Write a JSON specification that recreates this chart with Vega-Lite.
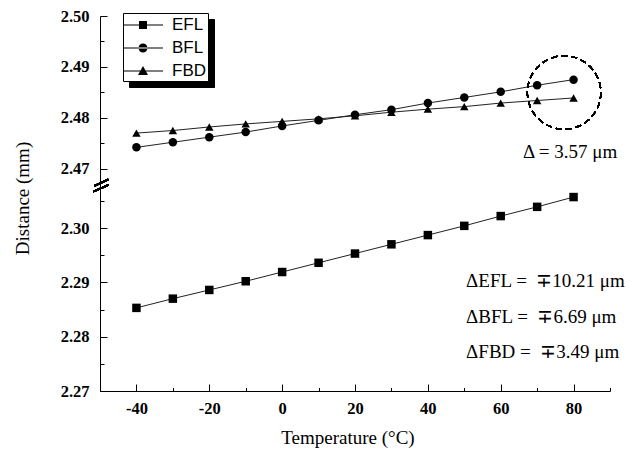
{
  "$schema": "https://vega.github.io/schema/vega-lite/v6.json",
  "width": 510,
  "height": 375,
  "autosize": "none",
  "padding": {"left": 100, "top": 16, "right": 22, "bottom": 62},
  "background": "white",
  "config": {
    "view": {"stroke": null},
    "axis": {
      "grid": false,
      "domainColor": "black",
      "domainWidth": 1,
      "tickColor": "black",
      "tickWidth": 1,
      "labelColor": "black",
      "titleColor": "black",
      "labelFont": "Liberation Serif",
      "labelFontWeight": "bold",
      "labelFontSize": 16.5,
      "titleFont": "Liberation Serif",
      "titleFontWeight": "normal",
      "titleFontSize": 19
    }
  },
  "datasets": {
    "series": [
      {"series": "EFL", "t": -40, "d": 2.2853},
      {"series": "EFL", "t": -30, "d": 2.2870},
      {"series": "EFL", "t": -20, "d": 2.2886},
      {"series": "EFL", "t": -10, "d": 2.2902},
      {"series": "EFL", "t": 0, "d": 2.2919},
      {"series": "EFL", "t": 10, "d": 2.2936},
      {"series": "EFL", "t": 20, "d": 2.2953},
      {"series": "EFL", "t": 30, "d": 2.2970},
      {"series": "EFL", "t": 40, "d": 2.2987},
      {"series": "EFL", "t": 50, "d": 2.3004},
      {"series": "EFL", "t": 60, "d": 2.3022},
      {"series": "EFL", "t": 70, "d": 2.3039},
      {"series": "EFL", "t": 80, "d": 2.3057},
      {"series": "BFL", "t": -40, "d": 2.4742},
      {"series": "BFL", "t": -30, "d": 2.4752},
      {"series": "BFL", "t": -20, "d": 2.4762},
      {"series": "BFL", "t": -10, "d": 2.4772},
      {"series": "BFL", "t": 0, "d": 2.4784},
      {"series": "BFL", "t": 10, "d": 2.4795},
      {"series": "BFL", "t": 20, "d": 2.4806},
      {"series": "BFL", "t": 30, "d": 2.4816},
      {"series": "BFL", "t": 40, "d": 2.4829},
      {"series": "BFL", "t": 50, "d": 2.4840},
      {"series": "BFL", "t": 60, "d": 2.4851},
      {"series": "BFL", "t": 70, "d": 2.4864},
      {"series": "BFL", "t": 80, "d": 2.4875},
      {"series": "FBD", "t": -40, "d": 2.4770},
      {"series": "FBD", "t": -30, "d": 2.4775},
      {"series": "FBD", "t": -20, "d": 2.4782},
      {"series": "FBD", "t": -10, "d": 2.4788},
      {"series": "FBD", "t": 0, "d": 2.4793},
      {"series": "FBD", "t": 10, "d": 2.4798},
      {"series": "FBD", "t": 20, "d": 2.4804},
      {"series": "FBD", "t": 30, "d": 2.4811},
      {"series": "FBD", "t": 40, "d": 2.4817},
      {"series": "FBD", "t": 50, "d": 2.4822},
      {"series": "FBD", "t": 60, "d": 2.4829},
      {"series": "FBD", "t": 70, "d": 2.4834},
      {"series": "FBD", "t": 80, "d": 2.4839}
    ],
    "notes": [
      {"label": "Δ = 3.57 μm", "t": 66.1, "d": 2.4733},
      {"label": "ΔEFL = \u00a0∓10.21 μm", "t": 50.5, "d": 2.29025},
      {"label": "ΔBFL = \u00a0∓6.69 μm", "t": 50.5, "d": 2.28362},
      {"label": "ΔFBD = \u00a0∓3.49 μm", "t": 50.5, "d": 2.27718}
    ]
  },
  "data": {"name": "series"},
  "encoding": {
    "x": {
      "field": "t",
      "type": "quantitative",
      "title": "Temperature (°C)",
      "scale": {"domain": [-50, 90], "nice": false, "zero": false},
      "axis": {
        "title": "Temperature (°C)",
        "values": [-50, -40, -30, -20, -10, 0, 10, 20, 30, 40, 50, 60, 70, 80, 90],
        "labelExpr": "datum.value % 20 == 0 ? toString(datum.value) : ''",
        "tickSize": {"condition": {"test": "datum.value % 20 == 0", "value": -7}, "value": -3.5},
        "labelPadding": 16,
        "titleX": 247.5,
        "titleY": 46,
        "titleBaseline": "middle"
      }
    },
    "y": {
      "field": "d",
      "type": "quantitative",
      "title": "Distance (mm)",
      "scale": {"domain": [2.27, 2.307, 2.467, 2.50], "range": [375, 174, 168, 0], "nice": false, "zero": false},
      "axis": {
        "title": "Distance (mm)",
        "values": [2.27, 2.275, 2.28, 2.285, 2.29, 2.295, 2.30, 2.305, 2.47, 2.475, 2.48, 2.485, 2.49, 2.495, 2.50],
        "labelExpr": "round(datum.value*1000) % 10 == 0 ? format(datum.value, '.2f') : ''",
        "tickSize": {"condition": {"test": "round(datum.value*1000) % 10 == 0", "value": -7}, "value": -4},
        "labelPadding": 18,
        "titleX": -78,
        "titleY": 182,
        "titleBaseline": "middle"
      }
    }
  },
  "layer": [
    {
      "mark": {"type": "line", "strokeWidth": 1},
      "encoding": {
        "color": {
          "field": "series",
          "type": "nominal",
          "scale": {"domain": ["EFL", "BFL", "FBD"], "range": ["#222222", "#222222", "#222222"]},
          "legend": {
            "title": null, "orient": "none", "legendX": 29, "legendY": 3, "zindex": 1,
            "fillColor": "black", "strokeColor": "black", "padding": 2, "rowPadding": 5,
            "symbolSize": 400, "symbolType": "M-2,-0.05H2V0.05H-2Z", "symbolOffset": 8, "labelOffset": 19,
            "symbolStrokeWidth": 0, "labelFont": "Liberation Sans", "labelFontSize": 17,
            "labelColor": "black", "cornerRadius": 0
          }
        }
      }
    },
    {
      "mark": {"type": "point", "filled": true, "color": "black", "opacity": 1, "strokeWidth": 0},
      "encoding": {
        "shape": {
          "field": "series",
          "type": "nominal",
          "scale": {"domain": ["EFL", "BFL", "FBD"], "range": ["square", "circle", "triangle-up"]},
          "legend": null
        },
        "size": {"value": 72}
      }
    },
    {
      "transform": [{"filter": "datum.series == 'none'"}],
      "mark": {"type": "point", "filled": true, "color": "black", "strokeWidth": 0, "opacity": 1, "size": 400},
      "encoding": {
        "shape": {
          "field": "series",
          "type": "nominal",
          "scale": {
            "domain": ["EFL", "BFL", "FBD"],
            "range": [
              "M-2,-0.05H2V0.05H-2ZM-0.4,-0.4H0.4V0.4H-0.4Z",
              "M-2,-0.05H2V0.05H-2ZM-0.45,0A0.45,0.45,0,1,0,0.45,0A0.45,0.45,0,1,0,-0.45,0Z",
              "M-2,-0.05H2V0.05H-2ZM0,-0.5L0.5,0.4H-0.5Z"
            ]
          },
          "legend": {
            "title": null, "orient": "none", "legendX": 23, "legendY": -3, "zindex": 2,
            "fillColor": "white", "strokeColor": "black", "padding": 2, "rowPadding": 5,
            "symbolSize": 400, "symbolOffset": 8, "labelOffset": 19,
            "symbolStrokeWidth": 0, "symbolFillColor": "black",
            "labelFont": "Liberation Sans", "labelFontSize": 17, "labelColor": "black", "cornerRadius": 0
          }
        }
      }
    },
    {
      "mark": {"type": "point", "shape": "circle", "filled": false, "stroke": "black", "strokeWidth": 1.2, "strokeDash": [6, 4], "size": 5400, "opacity": 1},
      "encoding": {
        "x": {"datum": 77.4, "type": "quantitative"},
        "y": {"datum": 2.48497, "type": "quantitative"}
      }
    },
    {
      "mark": {"type": "rule", "stroke": "black", "strokeWidth": 1.5},
      "encoding": {
        "x": {"datum": -51.84, "type": "quantitative"},
        "x2": {"datum": -47.72},
        "y": {"datum": 2.30669, "type": "quantitative"},
        "y2": {"datum": 2.4403}
      }
    },
    {
      "mark": {"type": "rule", "stroke": "black", "strokeWidth": 1.5},
      "encoding": {
        "x": {"datum": -51.56, "type": "quantitative"},
        "x2": {"datum": -47.72},
        "y": {"datum": 2.41367, "type": "quantitative"},
        "y2": {"datum": 2.46792}
      }
    },
    {
      "data": {"name": "notes"},
      "mark": {"type": "text", "align": "left", "baseline": "middle", "font": "Liberation Serif", "fontSize": 19, "color": "black"},
      "encoding": {
        "text": {"field": "label", "type": "nominal"}
      }
    }
  ],
  "resolve": {"scale": {"shape": "independent"}}
}
